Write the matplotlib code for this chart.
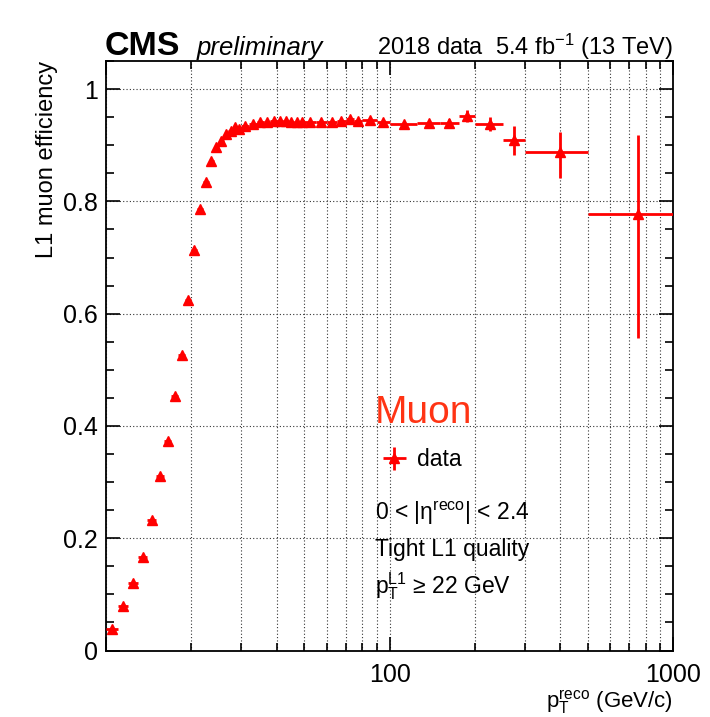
import numpy as np
import matplotlib
matplotlib.use("Agg")
import matplotlib.pyplot as plt
from matplotlib.ticker import FixedLocator, FixedFormatter, LogLocator, MultipleLocator, NullFormatter

plt.rcParams['font.family'] = ['Liberation Sans', 'DejaVu Sans']
plt.rcParams['mathtext.fontset'] = 'custom'
plt.rcParams['mathtext.rm'] = 'Liberation Sans'
plt.rcParams['mathtext.it'] = 'Liberation Sans:italic'
plt.rcParams['mathtext.bf'] = 'Liberation Sans:bold'

# bin centres and half widths (GeV/c)
pt = [10.5, 11.5, 12.5, 13.5, 14.5, 15.5, 16.5, 17.5, 18.5, 19.5,
      20.5, 21.5, 22.5, 23.5, 24.5, 25.5, 26.5, 27.5, 28.5, 29.5,
      31, 33, 35, 37, 39, 41, 43, 45, 47, 49,
      52.5, 57.5, 62.5, 67.5, 72.5, 77.5, 85, 95,
      112.5, 137.5, 162.5, 187.5, 225, 275, 400, 750]
pt_hw = [0.5] * 20 + [1] * 10 + [2.5] * 6 + [5, 5] + [12.5] * 4 + [25, 25, 100, 250]

eff = [0.038, 0.080, 0.120, 0.166, 0.232, 0.311, 0.374, 0.454, 0.527, 0.624,
       0.714, 0.787, 0.834, 0.871, 0.896, 0.908, 0.920, 0.926, 0.932, 0.928,
       0.935, 0.938, 0.941, 0.942, 0.944, 0.943, 0.943, 0.942, 0.941, 0.942,
       0.942, 0.942, 0.942, 0.943, 0.946, 0.944, 0.945, 0.942,
       0.938, 0.939, 0.939, 0.952, 0.938, 0.910, 0.888, 0.777]
err_lo = [0.003] * 38 + [0.004, 0.005, 0.007, 0.011, 0.013, 0.028, 0.046, 0.221]
err_hi = [0.003] * 38 + [0.004, 0.005, 0.007, 0.011, 0.013, 0.024, 0.036, 0.142]

fig = plt.figure(figsize=(7.1, 7.17), dpi=100)
ax = fig.add_axes([106 / 710, 1 - 650.5 / 717, (673.3 - 106) / 710, (650.5 - 61) / 717])

red = '#ff0000'
eb = ax.errorbar(pt, eff, xerr=pt_hw, yerr=[err_lo, err_hi], fmt='^', color=red,
                 ms=6.5, elinewidth=2.0, capsize=0, label='data', zorder=3)

ax.set_xscale('log')
ax.set_xlim(10, 1000)
ax.set_ylim(0, 1.05)

ax.xaxis.set_major_locator(FixedLocator([10, 100, 1000]))
ax.xaxis.set_major_formatter(FixedFormatter(['', '100', '1000']))
ax.xaxis.set_minor_locator(LogLocator(base=10, subs=np.arange(2, 10)))
ax.xaxis.set_minor_formatter(NullFormatter())
ax.yaxis.set_major_locator(MultipleLocator(0.2))
ax.yaxis.set_major_formatter(matplotlib.ticker.FuncFormatter(
    lambda v, p: '0' if abs(v) < 1e-9 else ('1' if abs(v - 1) < 1e-9 else f'{v:.1f}')))
ax.yaxis.set_minor_locator(MultipleLocator(0.05))

ax.tick_params(which='both', direction='in', top=True, right=True, width=1.2, labelsize=18)
ax.tick_params(axis='y', which='major', length=10, pad=6)
ax.tick_params(axis='y', which='minor', length=6)
ax.tick_params(axis='x', which='major', length=10, pad=9)
ax.tick_params(axis='x', which='minor', length=5.5)
for s in ax.spines.values():
    s.set_linewidth(1.3)

ax.set_axisbelow(True)
ax.grid(which='both', axis='x', linestyle=(0, (1, 2)), color='0.2', lw=0.8)
ax.grid(which='major', axis='y', linestyle=(0, (1, 2)), color='0.2', lw=0.8)

ax.set_ylabel('L1 muon efficiency', fontsize=17, loc='top')
ax.yaxis.set_label_coords(-0.085, 1.0)
ax.set_xlabel(r'p$_{\mathrm{T}}^{\mathrm{reco}}$ (GeV/c)', fontsize=16, loc='right')
ax.xaxis.set_label_coords(1.0, -0.065)

# header
fig.text(105 / 710, 1 - 55 / 717, 'CMS', fontsize=24.5, fontweight='bold', va='baseline')
fig.text(197 / 710, 1 - 55 / 717, 'preliminary', fontsize=18.5, style='italic', va='baseline')
fig.text(673 / 710, 1 - 55 / 717, r'2018 data  5.4 fb$^{-1}$ (13 TeV)', fontsize=17,
         ha='right', va='baseline')

# annotations inside the frame
fig.text(375 / 710, 1 - 423 / 717, 'Muon', fontsize=28, color='#ff3414', va='baseline')
fig.text(375 / 710, 1 - 520 / 717, r'0 < |$\mathrm{η}^{\mathrm{reco}}$| < 2.4', fontsize=16.5, va='baseline')
fig.text(375 / 710, 1 - 556 / 717, 'Tight L1 quality', fontsize=16.5, va='baseline')
fig.text(375 / 710, 1 - 593 / 717, r'p$_{\mathrm{T}}^{\mathrm{L1}}$ ≥ 22 GeV', fontsize=16.5, va='baseline')

ax.legend(handles=[eb], loc='center left', bbox_to_anchor=(380 / 710, 1 - 460 / 717),
          bbox_transform=fig.transFigure, frameon=False, fontsize=16.5,
          handlelength=1.25, handletextpad=0.35, borderpad=0, borderaxespad=0)

fig.savefig('out.png', dpi=100)
